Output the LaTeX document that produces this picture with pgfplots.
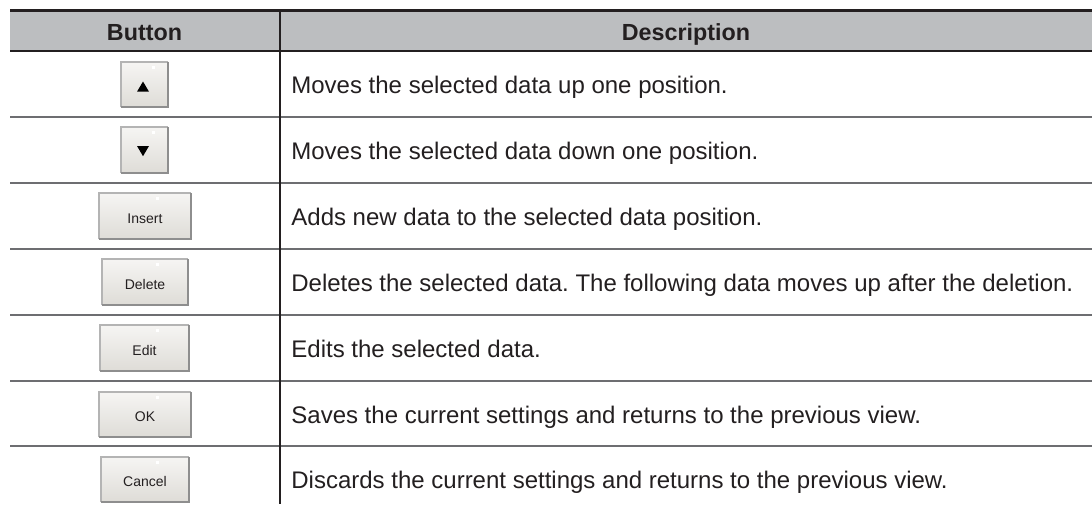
\documentclass[border=0pt]{standalone}
\usepackage{pgfplots}
\pgfplotsset{compat=1.18}
\usepackage{fontspec}
\setmainfont{Liberation Sans}
\frenchspacing
\definecolor{hdr}{HTML}{BCBEC0}
\definecolor{ink}{HTML}{231F20}
\definecolor{rule}{HTML}{6D6E71}
\definecolor{btntop}{HTML}{F6F5F3}
\definecolor{btnbot}{HTML}{DEDCD7}
\definecolor{btnedge}{HTML}{B4B4B4}
\definecolor{btndark}{HTML}{8E8E8E}
\newcommand{\btn}[4]{% x1 y1 x2 y2 (y1 top)
  \shade[top color=btntop, bottom color=btnbot] (#1,#2) rectangle (#3,#4);
  \draw[btnedge, line width=1.2bp] (#1,#4) -- (#1,#2) -- (#3,#2);
  \draw[btndark, line width=1.2bp] (#3,#2) -- (#3,#4) -- (#1,#4);
}
\newcommand{\btnlabel}[3]{%
  \node[anchor=base, inner sep=0pt, text=ink, font=\fontsize{14bp}{16bp}\selectfont] at (#1,#2) {#3};
}
\newcommand{\desc}[2]{%
  \node[anchor=base west, inner sep=0pt, text=ink, font=\fontsize{24bp}{28bp}\selectfont] at (291.2,#1) {#2};
}
\newcommand{\wmark}[2]{\fill[white] (#1,#2) rectangle ({#1+3},{#2+3});}
\begin{document}
\begin{tikzpicture}
\begin{axis}[
  width=1092bp, height=504bp, scale only axis,
  xmin=0, xmax=1092, ymin=0, ymax=504, y dir=reverse,
  hide axis, clip=true,
]
% header
\fill[hdr] (10,10.5) rectangle (1092,51);
\draw[ink, line width=2.5bp] (10,10.5) -- (1092,10.5);
\draw[ink, line width=2.5bp] (10,51) -- (1092,51);
% row rules
\draw[rule, line width=2bp] (10,117) -- (1092,117);
\draw[rule, line width=2bp] (10,183) -- (1092,183);
\draw[rule, line width=2bp] (10,249) -- (1092,249);
\draw[rule, line width=2bp] (10,315) -- (1092,315);
\draw[rule, line width=2bp] (10,381) -- (1092,381);
\draw[rule, line width=2bp] (10,446) -- (1092,446);
% divider
\draw[ink, line width=1.3bp] (280,9.5) -- (280,504);
% header text
\node[anchor=base, inner sep=0pt, text=ink, font=\fontsize{23.3bp}{28bp}\selectfont\bfseries] at (144.5,41) {Button};
\node[anchor=base, inner sep=0pt, text=ink, font=\fontsize{23.3bp}{28bp}\selectfont\bfseries] at (686,41) {Description};
% buttons
\btn{121}{62}{168}{107}
\fill[black] (137,91.7) -- (149,91.7) -- (143,81.5) -- cycle;
\btn{121}{127}{168}{173}
\fill[black] (137,146) -- (149,146) -- (143,156.2) -- cycle;
\btn{99}{193}{191}{239}
\btnlabel{145}{223.3}{Insert}
\btn{102}{259}{188}{305}
\btnlabel{145}{289.3}{Delete}
\btn{100}{325}{189}{371}
\btnlabel{144.5}{355.3}{Edit}
\btn{99}{392}{191}{437}
\btnlabel{145}{421.3}{OK}
\btn{101}{457}{189}{502}
\btnlabel{145}{486.3}{Cancel}
% white marks
\wmark{152}{66}
\wmark{152}{131}
\wmark{156}{197}
\wmark{156}{263}
\wmark{156}{329}
\wmark{156}{396}
\wmark{156}{461}
% descriptions
\desc{93}{Moves the selected data up one position.}
\desc{159}{Moves the selected data down one position.}
\desc{225}{Adds new data to the selected data position.}
\desc{291}{Deletes the selected data. The following data moves up after the deletion.}
\desc{357}{Edits the selected data.}
\desc{423}{Saves the current settings and returns to the previous view.}
\desc{488}{Discards the current settings and returns to the previous view.}
\end{axis}
\path (current axis.south west) rectangle (current axis.north east);
\end{tikzpicture}
\end{document}
